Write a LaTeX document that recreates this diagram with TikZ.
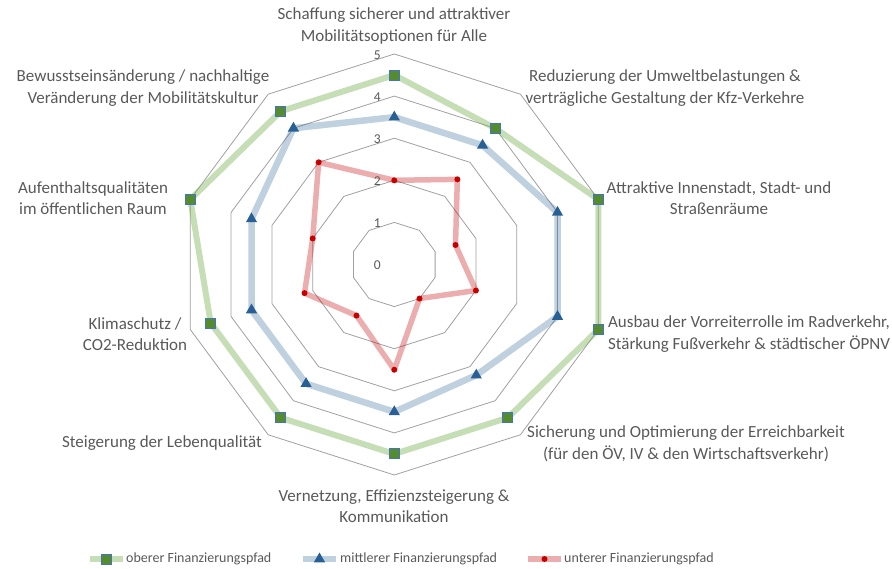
\documentclass[tikz,border=0pt]{standalone}
\usepackage{fontspec}
\setmainfont{Carlito}
\usetikzlibrary{shapes.geometric}
\definecolor{txt}{RGB}{89,89,89}
\definecolor{gridc}{RGB}{160,160,160}
\definecolor{gline}{RGB}{112,173,71}
\definecolor{gfill}{RGB}{84,140,46}
\definecolor{gborder}{RGB}{68,114,196}
\definecolor{bline}{RGB}{44,98,150}
\definecolor{bmark}{RGB}{40,96,150}
\definecolor{rline}{RGB}{192,0,0}
\definecolor{rmark}{RGB}{200,0,0}
\tikzset{
  gridline/.style={draw=gridc, line width=0.8pt},
  gseries/.style={draw=gline, draw opacity=0.4, line width=6pt, line join=round},
  bseries/.style={draw=bline, draw opacity=0.3, line width=6.5pt, line join=round},
  rseries/.style={draw=rline, draw opacity=0.32, line width=5.5pt, line join=round},
  gmark/.style={rectangle, draw=gborder, fill=gfill, minimum size=10pt, inner sep=0pt, line width=1pt},
  bmarker/.style={regular polygon, regular polygon sides=3, fill=bmark, minimum size=13pt, inner sep=0pt},
  rmarker/.style={circle, fill=rmark, minimum size=6pt, inner sep=0pt},
  lab/.style={align=center, text=txt, font=\fontsize{17}{21.5}\selectfont, inner sep=0pt},
  numlab/.style={text=txt, font=\fontsize{13.5}{15}\selectfont, inner sep=0pt, anchor=east},
  leglab/.style={text=txt, font=\fontsize{14}{16}\selectfont, inner sep=0pt, anchor=west},
}
\begin{document}
\begin{tikzpicture}[x=1pt,y=-1pt]
\useasboundingbox (0,0) rectangle (892,569);
\def\cx{394.3}
\def\cy{264.5}
\def\sx{42.9}
\def\sy{42.1}
% grid rings
\foreach \l in {1,...,5}{
  \draw[gridline] ({\cx},{\cy-\sy*\l})
    \foreach \k in {1,...,9}{ -- ({\cx+\sx*\l*cos(90-36*\k)},{\cy-\sy*\l*sin(90-36*\k)}) } -- cycle;
}
% data coordinates
\foreach \v [count=\k from 0] in {4.5,4,5,5,4.5,4.5,4.5,4.5,5,4.5}
  \coordinate (g\k) at ({\cx+\sx*\v*cos(90-36*\k)},{\cy-\sy*\v*sin(90-36*\k)});
\foreach \v [count=\k from 0] in {3.5,3.5,4,4,3.25,3.5,3.5,3.5,3.5,4}
  \coordinate (b\k) at ({\cx+\sx*\v*cos(90-36*\k)},{\cy-\sy*\v*sin(90-36*\k)});
\foreach \v [count=\k from 0] in {2,2.5,1.5,2,1,2.5,1.5,2.2,2,3}
  \coordinate (r\k) at ({\cx+\sx*\v*cos(90-36*\k)},{\cy-\sy*\v*sin(90-36*\k)});
% series lines
\draw[gseries] (g0)--(g1)--(g2)--(g3)--(g4)--(g5)--(g6)--(g7)--(g8)--(g9)--cycle;
\draw[bseries] (b0)--(b1)--(b2)--(b3)--(b4)--(b5)--(b6)--(b7)--(b8)--(b9)--cycle;
\draw[rseries] (r0)--(r1)--(r2)--(r3)--(r4)--(r5)--(r6)--(r7)--(r8)--(r9)--cycle;
% markers
\foreach \k in {0,...,9}{
  \node[gmark] (gm\k) at (g\k) {};
  \node[bmarker] (bm\k) at (b\k) {};
  \node[rmarker] (rm\k) at (r\k) {};
}
% axis numbers
\foreach \l in {0,...,5}
  \node[numlab] (n\l) at (381,{\cy-\sy*\l+1}) {\l};
% category labels
\node[lab] (l0) at (394,26) {Schaffung sicherer und attraktiver\\Mobilitätsoptionen für Alle};
\node[lab] (l1) at (665,88) {Reduzierung der Umweltbelastungen \&\\verträgliche Gestaltung der Kfz-Verkehre};
\node[lab] (l2) at (719,198) {Attraktive Innenstadt, Stadt- und\\Straßenräume};
\node[lab] (l3) at (749,334) {Ausbau der Vorreiterrolle im Radverkehr,\\Stärkung Fußverkehr \& städtischer ÖPNV};
\node[lab] (l4) at (686,444) {Sicherung und Optimierung der Erreichbarkeit\\(für den ÖV, IV \& den Wirtschaftsverkehr)};
\node[lab] (l5) at (394,506) {Vernetzung, Effizienzsteigerung \&\\Kommunikation};
\node[lab] (l6) at (162,443) {Steigerung der Lebenqualität};
\node[lab] (l7) at (135,334) {Klimaschutz /\\CO2-Reduktion};
\node[lab] (l8) at (93,198) {Aufenthaltsqualitäten\\im öffentlichen Raum};
\node[lab] (l9) at (143,88) {Bewusstseinsänderung / nachhaltige\\Veränderung der Mobilitätskultur};
% legend
\coordinate (lg1) at (90,559); \coordinate (lg2) at (123,559);
\draw[gseries] (lg1) -- (lg2);
\node[gmark] (lgm) at (106.5,559) {};
\node[leglab] (lgt) at (126,559) {oberer Finanzierungspfad};
\coordinate (lb1) at (303,559); \coordinate (lb2) at (336,559);
\draw[bseries] (lb1) -- (lb2);
\node[bmarker] (lbm) at (319.5,559) {};
\node[leglab] (lbt) at (340,559) {mittlerer Finanzierungspfad};
\coordinate (lr1) at (528,559); \coordinate (lr2) at (561,559);
\draw[rseries] (lr1) -- (lr2);
\node[rmarker] (lrm) at (544.5,559) {};
\node[leglab] (lrt) at (564,559) {unterer Finanzierungspfad};
\end{tikzpicture}
\end{document}
